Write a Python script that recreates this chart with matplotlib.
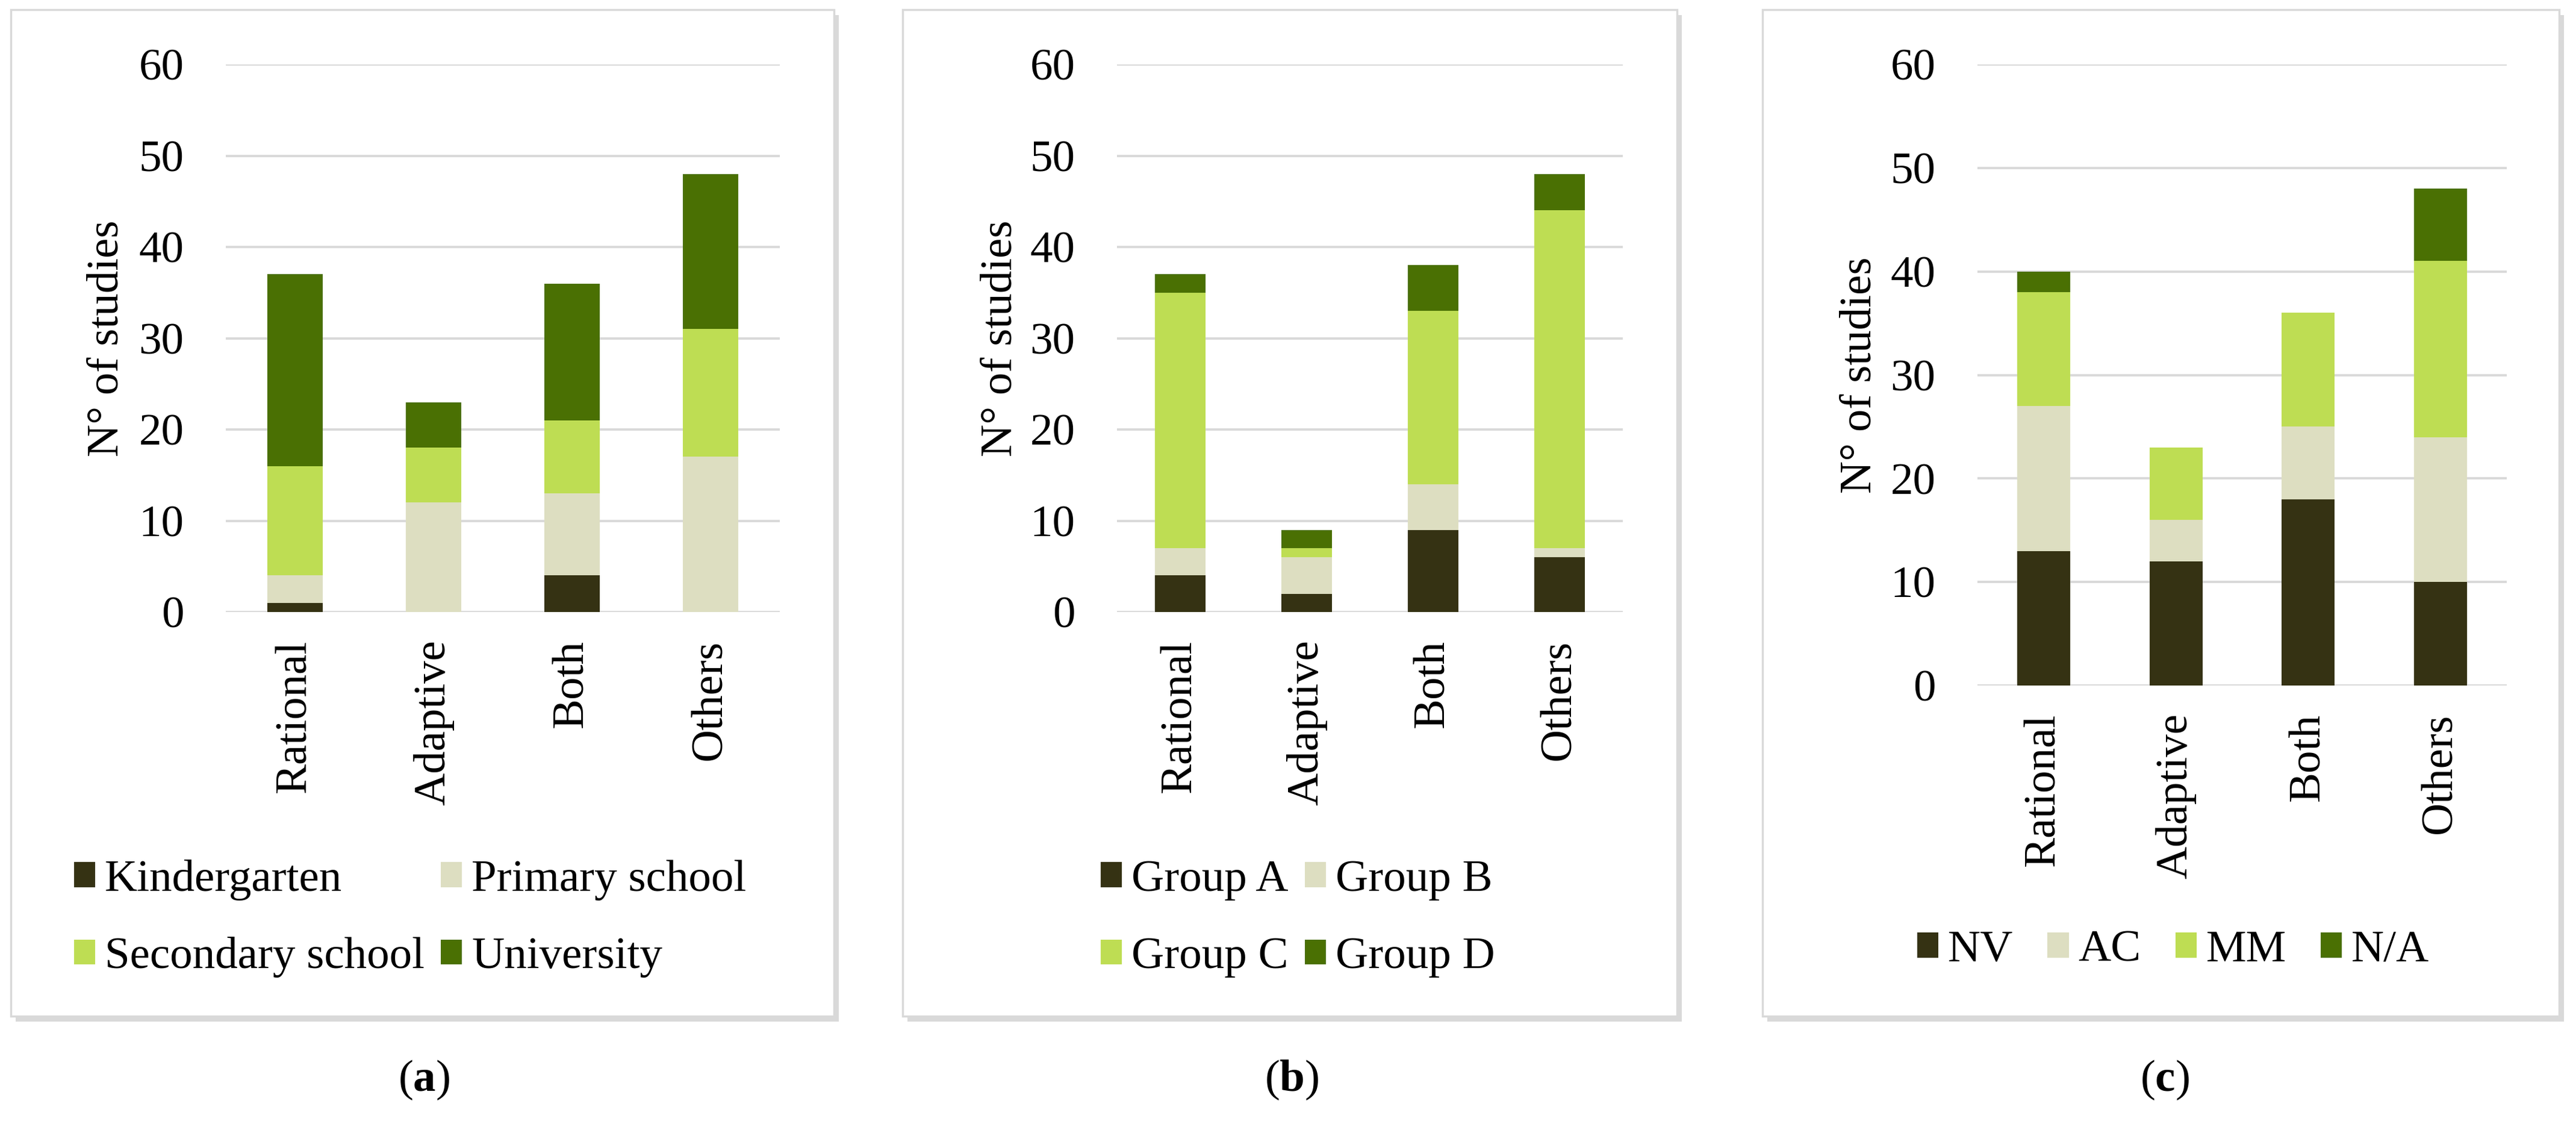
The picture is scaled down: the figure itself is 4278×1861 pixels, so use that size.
import matplotlib
matplotlib.use('Agg')
import matplotlib.pyplot as plt
from matplotlib.patches import Rectangle
import numpy as np

plt.rcParams['font.family'] = ['Liberation Serif', 'DejaVu Serif']
plt.rcParams['mathtext.fontset'] = 'custom'
plt.rcParams['mathtext.bf'] = 'Liberation Serif:bold'
plt.rcParams['mathtext.rm'] = 'Liberation Serif'

W, H = 4278, 1861
FS = 54

categories = ["Rational", "Adaptive", "Both", "Others"]
colors = ['#353213', '#DDDEC1', '#BEDD53', '#4A7003']

# (a) education level
labels_a = ["Kindergarten", "Primary school", "Secondary school", "University"]
kindergarten = [1, 0, 4, 0]
primary = [3, 12, 9, 17]
secondary = [12, 6, 8, 14]
university = [21, 5, 15, 17]

# (b) groups
labels_b = ["Group A", "Group B", "Group C", "Group D"]
group_a = [4, 2, 9, 6]
group_b = [3, 4, 5, 1]
group_c = [28, 1, 19, 37]
group_d = [2, 2, 5, 4]

# (c)
labels_c = ["NV", "AC", "MM", "N/A"]
nv = [13, 12, 18, 10]
ac = [14, 4, 7, 14]
mm = [11, 7, 11, 17]
na = [2, 0, 0, 7]

fig = plt.figure(figsize=(W / 100, H / 100), dpi=100)

def px(x, y):
    return x / W, 1 - y / H

# panel frames with shadow
for (l, t, r, b) in [(18, 16, 1385, 1687), (1499, 16, 2785, 1687), (2927, 16, 4250, 1687)]:
    fig.patches.append(Rectangle(px(l + 8, b + 9), (r - l) / W, (b - t) / H,
                                 transform=fig.transFigure, facecolor='#D9D9D9',
                                 edgecolor='none', zorder=-2))
    fig.patches.append(Rectangle(px(l, b), (r - l) / W, (b - t) / H,
                                 transform=fig.transFigure, facecolor='white',
                                 edgecolor='#D9D9D9', linewidth=2.5, zorder=-1))


def panel(left, right, top, bottom, series, labels, ylab_x):
    ax = fig.add_axes([left / W, 1 - bottom / H, (right - left) / W, (bottom - top) / H])
    ax.set_facecolor('none')
    ax.set_zorder(2)
    x = np.arange(len(categories))
    base = np.zeros(len(categories))
    handles = []
    for vals, lab, col in zip(series, labels, colors):
        h = ax.bar(x, vals, 0.4, bottom=base, color=col, label=lab, zorder=3)
        handles.append(h)
        base += np.array(vals)
    ax.set_ylim(0, 60)
    ax.set_xlim(-0.5, len(categories) - 0.5)
    ax.set_yticks(range(0, 61, 10))
    ax.set_xticks(x)
    ax.set_xticklabels(categories, rotation=90)
    ax.yaxis.grid(True, color='#D9D9D9', linewidth=2.8, zorder=0)
    ax.set_axisbelow(True)
    for s in ax.spines.values():
        s.set_visible(False)
    ax.tick_params(axis='y', length=0, pad=50, labelsize=FS)
    ax.tick_params(axis='x', length=0, pad=33, labelsize=FS)
    ax.set_ylabel("N° of studies", fontsize=FS)
    ax.yaxis.set_label_coords(ylab_x, 0.5)
    return ax, handles


ax_a, h_a = panel(375, 1295, 107, 1016, [kindergarten, primary, secondary, university], labels_a, -0.178)
ax_b, h_b = panel(1855, 2695, 107, 1016, [group_a, group_b, group_c, group_d], labels_b, -0.19)
ax_c, h_c = panel(3284, 4163, 107, 1138, [nv, ac, mm, na], labels_c, -0.184)

# row-wise order for two-column legends
order = [0, 2, 1, 3]

leg_kw = dict(frameon=False, fontsize=FS, handlelength=0.47, handleheight=0.47,
              handletextpad=0.21, borderpad=0, borderaxespad=0, labelspacing=0.81)
fig.legend(handles=[h_a[i] for i in order], labels=[labels_a[i] for i in order],
           ncol=2, loc='center left', bbox_to_anchor=px(123, 1525),
           columnspacing=0.36, **leg_kw)
fig.legend(handles=[h_b[i] for i in order], labels=[labels_b[i] for i in order],
           ncol=2, loc='center left', bbox_to_anchor=px(1828, 1525),
           columnspacing=0.36, **leg_kw)
fig.legend(handles=h_c, labels=labels_c, ncol=4, loc='center left',
           bbox_to_anchor=px(3184, 1578), columnspacing=0.76, **leg_kw)

for cx, letter in [(704, 'a'), (2145, 'b'), (3595, 'c')]:
    fig.text(*px(cx, 1793), r"($\mathbf{%s}$)" % letter, fontsize=FS,
             ha='center', va='center')

fig.savefig("out.png", dpi=100, facecolor='white')
